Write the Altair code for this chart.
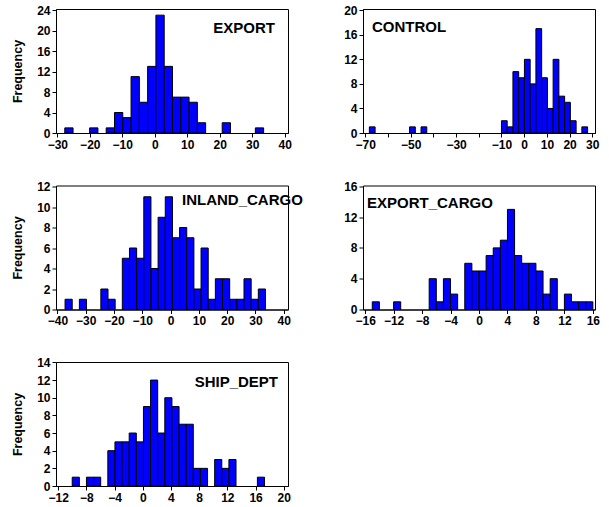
import altair as alt
import pandas as pd

# Histogram counts per variable; each series uses equal-width bins
# starting at the given lower edge.
export_start, export_width = -27.7, 2.55
export_counts = [1, 0, 0, 1, 0, 1, 4, 3, 11, 6, 13, 23, 13, 7, 7, 6, 2, 0, 0, 2, 0, 0, 0, 1]

control_start, control_width = -68.2, 2.53
control_counts = [1, 0, 0, 0, 0, 0, 0, 1, 0, 1, 0, 0, 0, 0, 0, 0, 0, 0, 0, 0, 0, 0, 0,
                  2, 1, 10, 9, 12, 8, 17, 9, 4, 12, 6, 5, 2, 0, 1]

inland_start, inland_width = -37.3, 2.53
inland_counts = [1, 0, 1, 0, 0, 2, 1, 0, 5, 6, 5, 11, 4, 9, 11, 7, 8, 7, 2, 6, 1, 3, 3, 1, 1, 3, 1, 2]

excargo_start, excargo_width = -15.0, 1.0
excargo_counts = [1, 0, 0, 1, 0, 0, 0, 0, 4, 1, 4, 2, 0, 6, 5, 5, 7, 8, 9, 13, 7, 6, 6, 5, 2, 4, 0, 2, 1, 1, 1]

ship_start, ship_width = -10.0, 1.01
ship_counts = [1, 0, 1, 1, 0, 4, 5, 5, 6, 5, 9, 12, 6, 10, 9, 7, 7, 2, 2, 0, 3, 2, 3, 0, 0, 0, 1]

# Axis ticks
export_xticks = [-30, -20, -10, 0, 10, 20, 30, 40]
export_yticks = [0, 4, 8, 12, 16, 20, 24]
control_xticks = [-70, -60, -50, -40, -30, -20, -10, 0, 10, 20, 30]
control_xunlabeled = [-60, -40, -20]
control_yticks = [0, 4, 8, 12, 16, 20]
inland_xticks = [-40, -30, -20, -10, 0, 10, 20, 30, 40]
inland_yticks = [0, 2, 4, 6, 8, 10, 12]
excargo_xticks = [-16, -12, -8, -4, 0, 4, 8, 12, 16]
excargo_yticks = [0, 4, 8, 12, 16]
ship_xticks = [-12, -8, -4, 0, 4, 8, 12, 16, 20]
ship_yticks = [0, 2, 4, 6, 8, 10, 12, 14]

W, H = 232, 124
FONT = "Liberation Sans"


def histogram(name, start, width, counts, xdom, xticks, ydom, yticks,
              show_ytitle, lx, ly, align, unlabeled=()):
    lo = [start + i * width for i in range(len(counts))]
    df = pd.DataFrame({"lo": lo, "hi": [v + width for v in lo], "count": counts})
    df = df[df["count"] > 0]

    label_expr = "datum.label"
    if unlabeled:
        arr = "[" + ",".join(str(v) for v in unlabeled) + "]"
        label_expr = f"indexof({arr}, datum.value) >= 0 ? '' : datum.label"

    bars = alt.Chart(df).mark_rect(
        color="#0000FF", stroke="black", strokeWidth=1
    ).encode(
        x=alt.X("lo:Q", scale=alt.Scale(domain=xdom, nice=False, zero=False),
                axis=alt.Axis(values=xticks, labelExpr=label_expr, title=None)),
        x2="hi:Q",
        y=alt.Y("count:Q", scale=alt.Scale(domain=ydom, nice=False),
                axis=alt.Axis(values=yticks,
                              title="Frequency" if show_ytitle else None)),
        y2=alt.datum(0),
    )
    label = alt.Chart(pd.DataFrame({"t": [name]})).mark_text(
        font=FONT, fontWeight="bold", fontSize=15, align=align,
        baseline="middle", color="black"
    ).encode(text="t:N", x=alt.value(lx), y=alt.value(ly))
    return (bars + label).properties(width=W, height=H)


p1 = histogram("EXPORT", export_start, export_width, export_counts,
               [-30.4, 41.0], export_xticks, [0, 24.2], export_yticks,
               True, 219, 19, "right")
p2 = histogram("CONTROL", control_start, control_width, control_counts,
               [-71.0, 31.2], control_xticks, [0, 20.2], control_yticks,
               False, 9, 18, "left", control_xunlabeled)
p3 = histogram("INLAND_CARGO", inland_start, inland_width, inland_counts,
               [-40.5, 41.5], inland_xticks, [0, 12.1], inland_yticks,
               True, 126, 14, "left")
p4 = histogram("EXPORT_CARGO", excargo_start, excargo_width, excargo_counts,
               [-16.3, 16.3], excargo_xticks, [0, 16.1], excargo_yticks,
               False, 4, 17, "left")
p5 = histogram("SHIP_DEPT", ship_start, ship_width, ship_counts,
               [-12.3, 20.6], ship_xticks, [0, 14.05], ship_yticks,
               True, 222, 20, "right")

chart = alt.concat(
    p1, p2, p3, p4, p5, columns=2, spacing={"row": 52.5, "column": 75},
    bounds="flush",
).properties(
    padding={"left": 11, "top": 3, "right": 5, "bottom": 5},
    background="white",
).configure_view(
    stroke="black", strokeWidth=1
).configure_axis(
    domainColor="black", tickColor="black", grid=False,
    labelFont=FONT, labelFontWeight="bold", labelFontSize=12, labelColor="black",
    titleFont=FONT, titleFontWeight="bold", titleFontSize=12.5, titleColor="black",
    tickSize=4, labelPadding=2, titlePadding=12,
)

chart.save("out.html", embed_options={"renderer": "svg", "actions": False})
